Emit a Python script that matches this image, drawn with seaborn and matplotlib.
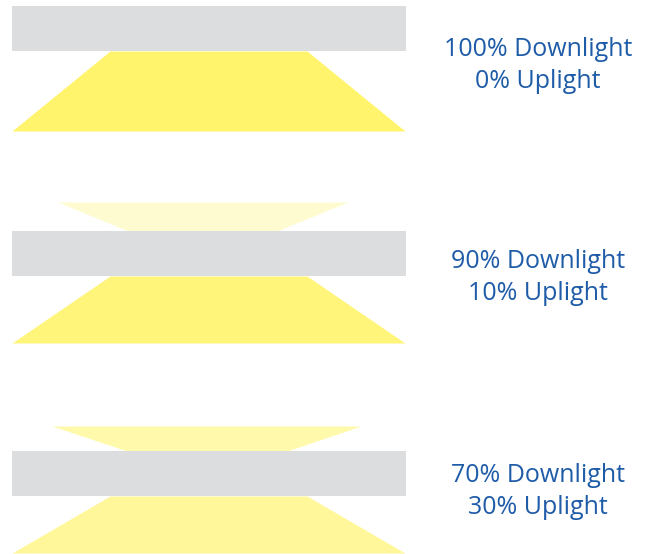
import matplotlib.pyplot as plt
import numpy as np
import seaborn as sns

# share of light going down / up for each fixture
downlight = [100, 90, 70]
uplight = [0, 10, 30]

# layout (pixel-like units, y grows downwards)
FIXTURE_TOP = [6, 231, 451]
FIXTURE_H = 45
FIXTURE_X = (12, 406)
DOWN_H = [80, 67, 57]
DOWN_TOP_X = (110, 307)
DOWN_BOT_X = (12, 405)
UP_H = [0, 29, 25]
UP_TOP_X = [(0, 0), (58, 348), (52, 361)]
UP_BOT_X = [(0, 0), (128, 277), (127, 287)]
LABEL_Y = [50, 262, 475]

GREY = "#dcddde"
DOWN_COLORS = ["#fff46c", "#fff57b", "#fff79a"]
UP_COLORS = ["#ffffff", "#fffbd1", "#fff9ab"]
TEXT_BLUE = "#1f5ca8"


def trapezoid(ax, y0, y1, x0, x1, color):
    # linear edges between (x0 at y0) and (x1 at y1)
    ys = np.array([y0, y1])
    ax.fill_betweenx(ys, [x0[0], x1[0]], [x0[1], x1[1]], color=color, linewidth=0)


sns.set_theme(style="white")
plt.rcParams["font.family"] = ["Open Sans", "DejaVu Sans"]

fig = plt.figure(figsize=(6.53, 5.54), dpi=100)
ax = fig.add_axes([0, 0, 1, 1])
ax.set_xlim(0, 653)
ax.set_ylim(554, 0)
ax.axis("off")

for i, (down, up) in enumerate(zip(downlight, uplight)):
    top = FIXTURE_TOP[i]
    bottom = top + FIXTURE_H

    if up > 0:
        trapezoid(ax, top - UP_H[i], top, UP_TOP_X[i], UP_BOT_X[i], UP_COLORS[i])

    trapezoid(ax, bottom, bottom + DOWN_H[i], DOWN_TOP_X, DOWN_BOT_X, DOWN_COLORS[i])

    ax.barh(top + FIXTURE_H / 2, FIXTURE_X[1] - FIXTURE_X[0], height=FIXTURE_H,
            left=FIXTURE_X[0], color=GREY, linewidth=0)

    ax.text(538, LABEL_Y[i], f"{down}% Downlight", ha="center", va="center",
            fontsize=18, color=TEXT_BLUE)
    ax.text(538, LABEL_Y[i] + 32, f"{up}% Uplight", ha="center", va="center",
            fontsize=18, color=TEXT_BLUE)

fig.savefig("out.png", dpi=100)
